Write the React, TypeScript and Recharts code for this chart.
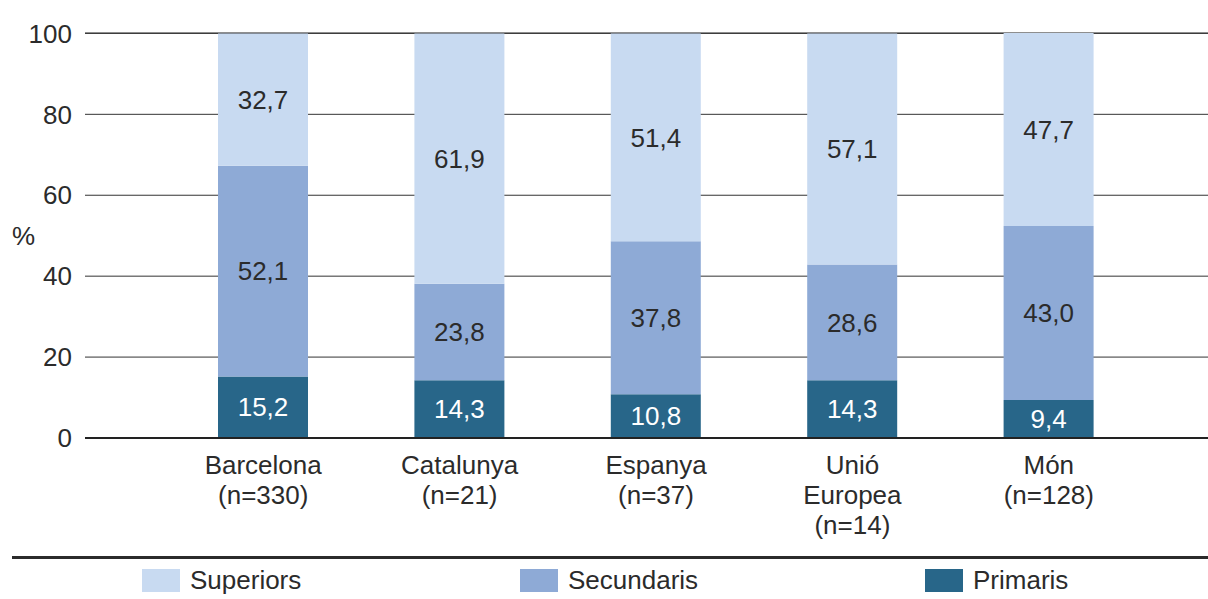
import React from 'react';
import { BarChart, Bar, XAxis, YAxis, CartesianGrid, LabelList, Legend } from 'recharts';

const categories = ['Barcelona|(n=330)', 'Catalunya|(n=21)', 'Espanya|(n=37)', 'Unió|Europea|(n=14)', 'Món|(n=128)'];
const primaris = [15.2, 14.3, 10.8, 14.3, 9.4];
const secundaris = [52.1, 23.8, 37.8, 28.6, 43.0];
const superiors = [32.7, 61.9, 51.4, 57.1, 47.7];
const yTicks = [0, 20, 40, 60, 80, 100];
const seriesNames = ['Superiors', 'Secundaris', 'Primaris'];

const COLORS = { superiors: '#c8daf1', secundaris: '#8eaad6', primaris: '#286689' };
const FONT = '"Liberation Sans", Arial, sans-serif';
const TEXT = '#2b2b2b';
const FS = 26;

const data = categories.map((c, i) => ({
  cat: c,
  primaris: primaris[i],
  secundaris: secundaris[i],
  superiors: superiors[i],
}));

const fmt = (v: any) => Number(v).toFixed(1).replace('.', ',');

const CatTick = (props: any) => {
  const { x, y, payload } = props;
  const lines = String(payload.value).split('|');
  return (
    <text x={x} y={y} textAnchor="middle" fill={TEXT} fontSize={FS} fontFamily={FONT}>
      {lines.map((l, i) => (
        <tspan key={i} x={x} dy={i === 0 ? 36 : 30}>{l}</tspan>
      ))}
    </text>
  );
};

const legendColors = [COLORS.superiors, COLORS.secundaris, COLORS.primaris];
const legendX = [142, 520, 925];

const LegendContent = () => (
  <div style={{ position: 'relative', width: 1208, height: 51 }}>
    <div style={{ position: 'absolute', left: 12, top: 8, width: 1196, height: 3, background: '#2b2b2b' }} />
    {seriesNames.map((n, i) => (
      <div key={n} style={{ position: 'absolute', left: legendX[i], top: 21, display: 'flex', alignItems: 'center' }}>
        <div style={{ width: 38, height: 23, background: legendColors[i] }} />
        <span style={{ marginLeft: 10, fontFamily: FONT, fontSize: FS, color: TEXT, lineHeight: '23px' }}>{n}</span>
      </div>
    ))}
  </div>
);

export default function App() {
  return (
    <div style={{ position: 'absolute', left: 0, top: 0, width: 1208, height: 599, background: '#fff' }}>
      <BarChart
        width={1208}
        height={599}
        data={data}
        margin={{ top: 33, right: 0, left: 0, bottom: 0 }}
        style={{ fontFamily: FONT }}
      >
        <CartesianGrid vertical={false} stroke="#333" strokeWidth={1} />
        <XAxis
          dataKey="cat"
          height={110}
          tick={<CatTick />}
          tickLine={false}
          tickSize={0}
          tickMargin={0}
          axisLine={{ stroke: '#222', strokeWidth: 2 }}
          padding={{ left: 80, right: 61 }}
          interval={0}
        />
        <YAxis
          width={85}
          domain={[0, 100]}
          ticks={yTicks}
          tickLine={false}
          axisLine={false}
          tickSize={0}
          tickMargin={13}
          tick={{ fill: TEXT, fontSize: FS, fontFamily: FONT }}
          label={{ value: '%', position: 'insideLeft', offset: 12, fill: TEXT, fontSize: FS, fontFamily: FONT }}
        />
        <Legend
          verticalAlign="bottom"
          content={<LegendContent />}
          wrapperStyle={{ position: 'absolute', left: 0, top: 548, width: 1208, height: 51 }}
        />
        <Bar dataKey="primaris" stackId="a" fill={COLORS.primaris} barSize={90} isAnimationActive={false}>
          <LabelList dataKey="primaris" position="center" formatter={fmt} fill="#ffffff" fontSize={FS} fontFamily={FONT} />
        </Bar>
        <Bar dataKey="secundaris" stackId="a" fill={COLORS.secundaris} barSize={90} isAnimationActive={false}>
          <LabelList dataKey="secundaris" position="center" formatter={fmt} fill={TEXT} fontSize={FS} fontFamily={FONT} />
        </Bar>
        <Bar dataKey="superiors" stackId="a" fill={COLORS.superiors} barSize={90} isAnimationActive={false}>
          <LabelList dataKey="superiors" position="center" formatter={fmt} fill={TEXT} fontSize={FS} fontFamily={FONT} />
        </Bar>
      </BarChart>
    </div>
  );
}
